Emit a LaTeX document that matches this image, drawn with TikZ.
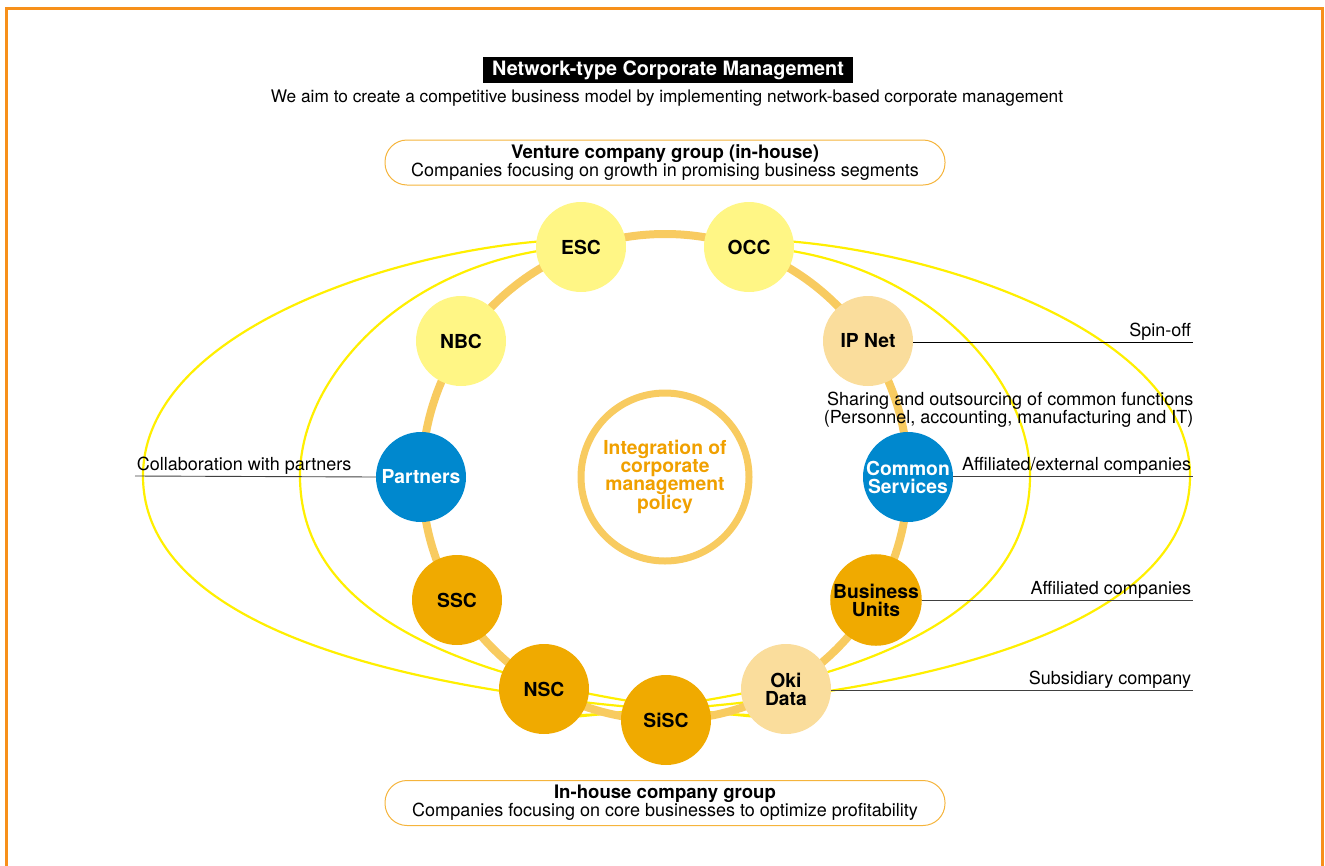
\documentclass[tikz,border=0pt]{standalone}
\usepackage{fontspec}
\setmainfont{TeX Gyre Heros}

\definecolor{frameorange}{HTML}{F7901A}
\definecolor{boxgold}{HTML}{F5B43C}
\definecolor{ringgold}{HTML}{F8CB60}
\definecolor{ventureyellow}{HTML}{FFF685}
\definecolor{peach}{HTML}{FADD9C}
\definecolor{serviceblue}{HTML}{0088CE}
\definecolor{inhouseorange}{HTML}{F0AA00}
\definecolor{linkyellow}{HTML}{FFEF00}
\definecolor{policyorange}{HTML}{F0A000}

\tikzset{
  unit/.style={circle, minimum size=90pt, inner sep=0pt, align=center,
    font=\fontsize{19.3}{18}\selectfont\bfseries},
  venture/.style={unit, fill=ventureyellow},
  inhouse/.style={unit, fill=inhouseorange},
  affiliate/.style={unit, fill=peach},
  shared/.style={unit, fill=serviceblue, text=white},
  groupbox/.style={draw=boxgold, line width=1pt, rounded corners=22pt,
    minimum width=560pt, minimum height=45pt, align=center, inner sep=0pt},
  leader/.style={draw=black!75, line width=0.9pt},
  link/.style={draw=linkyellow, line width=2.2pt},
  ring/.style={draw=ringgold, line width=8pt},
  note/.style={inner sep=1.5pt, align=right}
}

\begin{document}
\begin{tikzpicture}[x=1pt, y=-1pt, font=\fontsize{18}{18}\selectfont]
\useasboundingbox (0,0) rectangle (1325,865);
% frame, open at the bottom
\draw[frameorange, line width=3pt] (6,870) -- (6,8) -- (1322,8) -- (1322,870);

% heading
\node[fill=black, text=white, font=\fontsize{19.8}{18}\selectfont\bfseries,
  minimum width=370pt, minimum height=26pt, inner sep=0pt] (title) at (668,70)
  {Network-type Corporate Management};
\node[font=\fontsize{17.3}{18}\selectfont] (aim) at (667,98)
  {We aim to create a competitive business model by implementing network-based corporate management};

% the two groups
\node[groupbox] (venturegrp) at (665,162.5)
  {{\fontsize{18.6}{18}\selectfont\bfseries Venture company group (in-house)}\\Companies focusing on growth in promising business segments};
\node[groupbox] (inhousegrp) at (665,803)
  {{\fontsize{18.6}{18}\selectfont\bfseries In-house company group}\\Companies focusing on core businesses to optimize profitability};

% yellow loops, running behind the circles
\draw[link] (560,240) .. controls (400,248) and (143,330) .. (143,476)
  .. controls (143,620) and (380,700) .. (770,716);
\draw[link] (560,248) .. controls (400,265) and (300,380) .. (300,476)
  .. controls (300,600) and (430,690) .. (770,718);
\draw[link] (770,240) .. controls (930,248) and (1190,330) .. (1190,476)
  .. controls (1190,620) and (950,700) .. (560,716);
\draw[link] (770,248) .. controls (930,265) and (1030,380) .. (1030,476)
  .. controls (1030,600) and (900,690) .. (560,718);

% ring and centre
\draw[ring] (665,477) circle (243pt);
\node[circle, draw=ringgold, line width=7pt, minimum size=168pt, inner sep=0pt,
  align=center, text=policyorange, font=\fontsize{19.3}{18}\selectfont\bfseries]
  (policy) at (665,477) {Integration of\\corporate\\management\\policy};

% companies on the ring
\node[venture] (esc) at (581,247) {ESC};
\node[venture] (occ) at (749,247) {OCC};
\node[venture] (nbc) at (461,341) {NBC};
\node[affiliate] (ipnet) at (868,341) {IP Net};
\node[shared] (partners) at (421,477) {Partners};
\node[shared] (common) at (908,477) {Common\\Services};
\node[inhouse] (ssc) at (457,600) {SSC};
\node[inhouse] (bu) at (876,600) {Business\\Units};
\node[inhouse] (nsc) at (544,689) {NSC};
\node[inhouse] (sisc) at (666,720) {SiSC};
\node[affiliate] (okidata) at (786,689) {Oki\\Data};

% leaders and their notes
\coordinate (spinend) at (1193,342);
\coordinate (commonend) at (1193,476);
\coordinate (buend) at (1193,600);
\coordinate (okiend) at (1193,690);
\coordinate (partnerend) at (135,476);
\draw[leader, draw=black] (ipnet.east |- spinend) -- (spinend) node[note, anchor=south east] (spinoff) {Spin-off};
\draw[leader] (common.east |- commonend) -- (commonend) node[note, anchor=south east] (external) {Affiliated/external companies};
\draw[leader] (bu.east |- buend) -- (buend) node[note, anchor=south east] (affiliated) {Affiliated companies};
\draw[leader] (okidata.east |- okiend) -- (okiend) node[note, anchor=south east] (subsidiary) {Subsidiary company};
\draw[leader] (partners.west) -- (partnerend) node[note, anchor=south west] (collab) {Collaboration with partners};
\node[note, anchor=east] (sharing) at (1195,410)
  {Sharing and outsourcing of common functions\\(Personnel, accounting, manufacturing and IT)};
\end{tikzpicture}
\end{document}
